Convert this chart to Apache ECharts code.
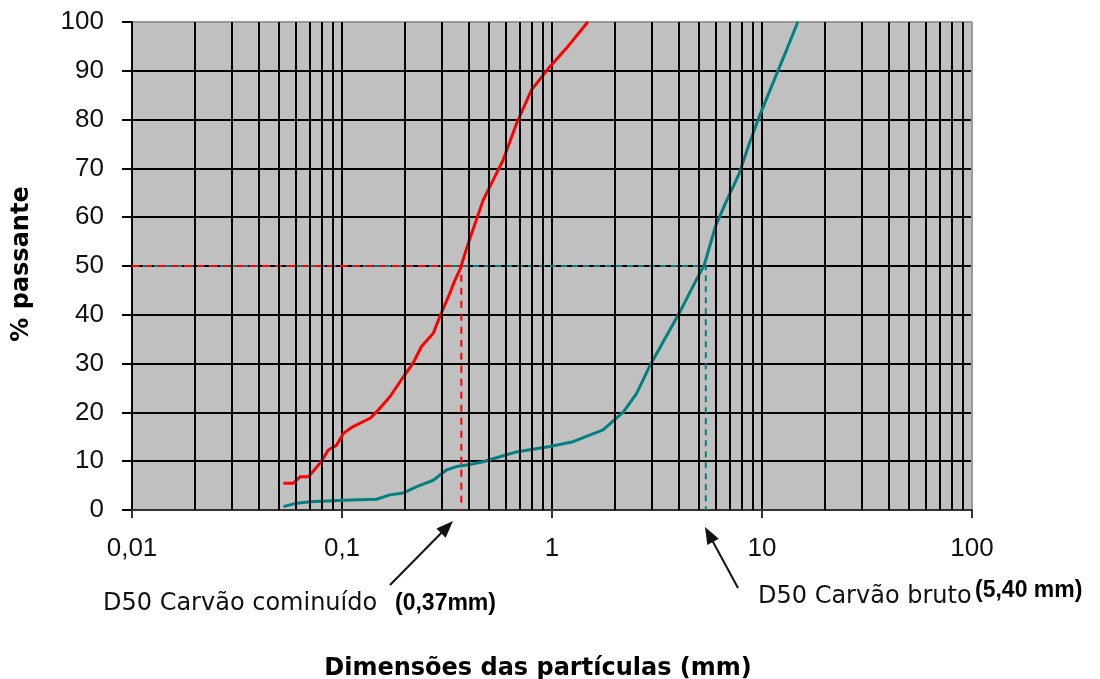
<!DOCTYPE html>
<html>
<head>
<meta charset="utf-8">
<title>Curva granulométrica</title>
<script src="https://cdn.jsdelivr.net/npm/echarts@6/dist/echarts.min.js"></script>
<style>
  html, body { margin: 0; padding: 0; background: #fff; }
  #chart { width: 1100px; height: 679px; }
</style>
</head>
<body>
<div id="chart"></div>
<script>
// carvão cominuído (vermelho): dimensão (mm) x % passante
var fineSize = [0.0526, 0.0587, 0.0631, 0.0692, 0.0786, 0.0861, 0.0943, 0.1015, 0.113, 0.136, 0.146, 0.169, 0.196, 0.218, 0.239, 0.272, 0.292, 0.326, 0.345, 0.364, 0.399, 0.47, 0.585, 0.678, 0.799, 0.975, 1.17, 1.48];
var finePass = [5.5, 5.5, 6.8, 6.8, 9.6, 12.3, 13.3, 15.7, 17.1, 18.8, 20.1, 23.2, 27.3, 30.1, 33.5, 36.2, 39.6, 44.4, 47.1, 49.2, 54.6, 63.5, 71.7, 79.2, 86.1, 90.8, 94.6, 100];

// carvão bruto (verde)
var rawSize = [0.0526, 0.0608, 0.0705, 0.1015, 0.146, 0.169, 0.196, 0.227, 0.272, 0.314, 0.351, 0.392, 0.47, 0.564, 0.678, 0.975, 1.26, 1.75, 2.19, 2.53, 2.91, 3.36, 4.03, 4.86, 5.31, 6.0, 6.7, 7.8, 8.7, 9.7, 11.6, 13.1, 14.8];
var rawPass = [0.7, 1.4, 1.7, 2.0, 2.2, 3.1, 3.5, 4.8, 6.1, 8.2, 8.9, 9.2, 9.9, 10.9, 11.9, 13.0, 14.0, 16.4, 20.1, 23.9, 29.4, 34.2, 40.3, 47.1, 50.2, 58.1, 62.9, 69.0, 75.1, 80.6, 88.8, 94.3, 100];

// D50
var d50Fine = 0.37;
var d50Raw = 5.40;
var d50Level = 50;

var xTickLabels = ['0,01', '0,1', '1', '10', '100'];
var xMinorGrid = [0.02, 0.03, 0.04, 0.05, 0.06, 0.07, 0.08, 0.09,
                  0.2, 0.3, 0.4, 0.5, 0.6, 0.7, 0.8, 0.9,
                  2, 3, 4, 5, 6, 7, 8, 9,
                  20, 30, 40, 50, 60, 70, 80, 90];

function pairs(xs, ys) {
    var res = [];
    for (var i = 0; i < xs.length; i++) {
        res.push([xs[i], ys[i]]);
    }
    return res;
}

function arrow(x1, y1, x2, y2) {		// seta da anotação, ponta em (x2,y2)
    var dx = x2 - x1, dy = y2 - y1;
    var len = Math.sqrt(dx * dx + dy * dy);
    var ux = dx / len, uy = dy / len;
    var hl = 17, hw = 6.5;
    var bx = x2 - ux * hl, by = y2 - uy * hl;
    return [
        {
            type: 'line',
            shape: { x1: x1, y1: y1, x2: bx + ux * 2, y2: by + uy * 2 },
            style: { stroke: '#111', lineWidth: 2 }
        },
        {
            type: 'polygon',
            shape: { points: [[x2, y2], [bx - uy * hw, by + ux * hw], [bx + uy * hw, by - ux * hw]] },
            style: { fill: '#111' }
        }
    ];
}

function drawChart() {
    var myChart = echarts.init(document.getElementById('chart'));
    var yGridColors = ['#000', '#000', '#000', '#000', '#000', '#000', '#000', '#000', '#000', '#000', '#999'];

    var graphics = [
        {
            type: 'text', x: 22, y: 264, rotation: Math.PI / 2,
            style: { text: '% passante', fontFamily: 'DejaVu Sans', fontWeight: 'bold', fontSize: 24,
                     fill: '#000', align: 'center', verticalAlign: 'middle' }
        },
        {
            type: 'text', x: 538, y: 669,
            style: { text: 'Dimensões das partículas (mm)', fontFamily: 'DejaVu Sans', fontWeight: 'bold', fontSize: 24,
                     fill: '#000', align: 'center', verticalAlign: 'middle' }
        },
        {
            type: 'text', x: 103, y: 604,
            style: { text: 'D50 Carvão cominuído', fontFamily: 'DejaVu Sans', fontSize: 24,
                     fill: '#111', align: 'left', verticalAlign: 'middle' }
        },
        {
            type: 'text', x: 395, y: 604,
            style: { text: '(0,37mm)', fontFamily: 'Liberation Sans', fontWeight: 'bold', fontSize: 23,
                     fill: '#000', align: 'left', verticalAlign: 'middle' }
        },
        {
            type: 'text', x: 758, y: 597,
            style: { text: 'D50 Carvão bruto', fontFamily: 'DejaVu Sans', fontSize: 24,
                     fill: '#111', align: 'left', verticalAlign: 'middle' }
        },
        {
            type: 'text', x: 975, y: 591,
            style: { text: '(5,40 mm)', fontFamily: 'Liberation Sans', fontWeight: 'bold', fontSize: 23,
                     fill: '#000', align: 'left', verticalAlign: 'middle' }
        }
    ];
    graphics = graphics.concat(arrow(390, 585, 453, 521), arrow(738, 588, 705, 527));

    var option = {
        animation: false,
        backgroundColor: '#fff',
        grid: {
            left: 132,
            right: 128,
            top: 22,
            bottom: 169,
            outerBoundsMode: 'none',
            show: true,
            backgroundColor: '#c0c0c0',
            borderColor: '#999',
            borderWidth: 1
        },
        xAxis: {
            type: 'log',
            logBase: 10,
            min: 0.01,
            max: 100,
            axisLine: { show: true, onZero: false, lineStyle: { color: '#333', width: 2 } },
            axisTick: { show: true, length: 8, lineStyle: { color: '#333', width: 2 } },
            minorTick: { show: false },
            splitLine: { show: true, lineStyle: { color: ['#000', '#000', '#000', '#000', '#999'], width: 2 } },
            axisLabel: {
                margin: 26,
                fontFamily: 'Liberation Sans',
                fontSize: 26,
                color: '#111',
                formatter: function (v) {
                    return xTickLabels[Math.round(Math.log10(v)) + 2];
                }
            }
        },
        yAxis: {
            type: 'value',
            min: 0,
            max: 100,
            interval: 10,
            axisLine: { show: true, lineStyle: { color: '#000', width: 2 } },
            axisTick: { show: true, length: 10, lineStyle: { color: '#000', width: 2 } },
            splitLine: { show: true, lineStyle: { color: yGridColors, width: 2 } },
            axisLabel: {
                margin: 28,
                fontFamily: 'Liberation Sans',
                fontSize: 26,
                color: '#111'
            }
        },
        graphic: graphics,
        series: [
            {	// linhas secundárias da escala logarítmica
                type: 'line',
                data: [],
                z: 1,
                silent: true,
                markLine: {
                    silent: true,
                    symbol: ['none', 'none'],
                    label: { show: false },
                    emphasis: { disabled: true },
                    lineStyle: { color: '#000', width: 2, type: 'solid' },
                    data: xMinorGrid.map(function (v) { return { xAxis: v }; })
                }
            },
            {
                name: 'D50 bruto',
                type: 'line',
                z: 2,
                silent: true,
                symbol: 'none',
                lineStyle: { color: '#008080', width: 2, type: [6, 5] },
                data: [[0.01, d50Level], [d50Raw, d50Level], [d50Raw, 0]]
            },
            {
                name: 'D50 cominuído',
                type: 'line',
                z: 3,
                silent: true,
                symbol: 'none',
                lineStyle: { color: '#ff0000', width: 2, type: [7, 6] },
                data: [[0.01, d50Level], [d50Fine, d50Level], [d50Fine, 0]]
            },
            {
                name: 'Carvão bruto',
                type: 'line',
                z: 4,
                symbol: 'none',
                lineStyle: { color: '#008080', width: 3 },
                data: pairs(rawSize, rawPass)
            },
            {
                name: 'Carvão cominuído',
                type: 'line',
                z: 4,
                symbol: 'none',
                lineStyle: { color: '#ff0000', width: 3 },
                data: pairs(fineSize, finePass)
            }
        ]
    };
    myChart.setOption(option, true);
}

drawChart();
</script>
</body>
</html>
